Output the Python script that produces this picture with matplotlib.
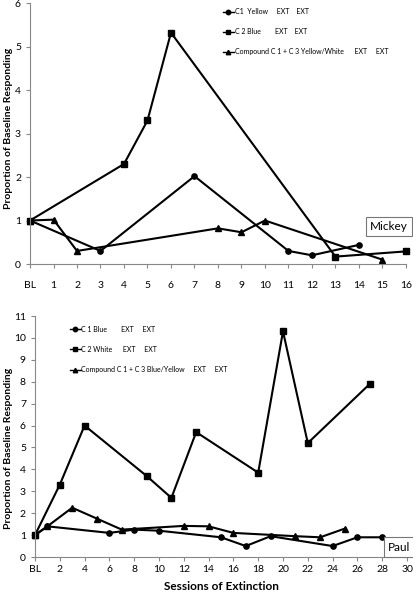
import matplotlib
matplotlib.use("Agg")
import matplotlib.pyplot as plt

plt.rcParams['font.family'] = ['Lato', 'DejaVu Sans']

# ---- Mickey data ----
m_c1_x = [0, 3, 7, 11, 12, 14]
m_c1_y = [1.0, 0.3, 2.02, 0.3, 0.2, 0.44]
m_c2_x = [0, 4, 5, 6, 13, 16]
m_c2_y = [1.0, 2.3, 3.3, 5.32, 0.17, 0.29]
m_c3_x = [0, 1, 2, 8, 9, 10, 15]
m_c3_y = [1.0, 1.02, 0.3, 0.82, 0.73, 1.0, 0.1]
m_labels = ["C1  Yellow     EXT    EXT",
            "C 2 Blue        EXT    EXT",
            "Compound C 1 + C 3 Yellow/White      EXT     EXT"]
m_ticks = list(range(0, 17))
m_ticklabels = ["BL"] + [str(i) for i in range(1, 17)]

# ---- Paul data ----
p_c1_x = [0, 1, 6, 8, 10, 15, 17, 19, 24, 26, 28]
p_c1_y = [1.0, 1.4, 1.1, 1.25, 1.2, 0.9, 0.5, 0.95, 0.5, 0.9, 0.9]
p_c2_x = [0, 2, 4, 9, 11, 13, 18, 20, 22, 27]
p_c2_y = [1.0, 3.3, 6.0, 3.7, 2.7, 5.7, 3.85, 10.3, 5.2, 7.9]
p_c3_x = [0, 1, 3, 5, 7, 12, 14, 16, 21, 23, 25]
p_c3_y = [1.0, 1.4, 2.25, 1.75, 1.25, 1.42, 1.4, 1.1, 0.95, 0.9, 1.3]
p_labels = ["C 1 Blue        EXT     EXT",
            "C 2 White      EXT     EXT",
            "Compound C 1 + C 3 Blue/Yellow     EXT     EXT"]
p_ticks = list(range(0, 31, 2))
p_ticklabels = ["BL"] + [str(i) for i in range(2, 31, 2)]

fig = plt.figure(figsize=(4.14, 5.93), dpi=100)
ax1 = fig.add_axes([0.0725, 0.5548, 0.908, 0.440])
ax2 = fig.add_axes([0.0845, 0.0607, 0.8986, 0.4064])

spine_c = '#888888'

def style(ax):
    for s in ['top', 'right']:
        ax.spines[s].set_visible(False)
    for s in ['left', 'bottom']:
        ax.spines[s].set_color(spine_c)
        ax.spines[s].set_linewidth(0.8)
    ax.tick_params(axis='both', colors=spine_c, labelcolor='black',
                   labelsize=7.5, length=3, width=0.8, direction='out')

lw = 1.5
ms = 3.8
for ax, data, labels in [
    (ax1, [(m_c1_x, m_c1_y, 'o'), (m_c2_x, m_c2_y, 's'), (m_c3_x, m_c3_y, '^')], m_labels),
    (ax2, [(p_c1_x, p_c1_y, 'o'), (p_c2_x, p_c2_y, 's'), (p_c3_x, p_c3_y, '^')], p_labels),
]:
    for (x, y, mk), lab in zip(data, labels):
        ax.plot(x, y, color='black', lw=lw, marker=mk, ms=ms, label=lab,
                clip_on=False)
    style(ax)

ax1.set_xlim(0, 16)
ax1.set_ylim(0, 6)
ax1.set_xticks(m_ticks)
ax1.set_xticklabels(m_ticklabels)
ax1.set_yticks(range(0, 7))
ax1.tick_params(axis='x', pad=9)

ax2.set_xlim(0, 30)
ax2.set_ylim(0, 11)
ax2.set_xticks(p_ticks)
ax2.set_xticklabels(p_ticklabels)
ax2.set_yticks(range(0, 12))
ax2.tick_params(axis='x', pad=3)

ax1.set_ylabel("Proportion of Baseline Responding", fontsize=7.5,
               fontweight='bold')
ax1.yaxis.set_label_coords(-0.045, 0.52)
ax2.set_ylabel("Proportion of Baseline Responding", fontsize=7.5,
               fontweight='bold')
ax2.yaxis.set_label_coords(-0.059, 0.45)
ax2.set_xlabel("Sessions of Extinction", fontsize=8.5, fontweight='bold')
ax2.xaxis.set_label_coords(0.5, -0.1)

leg1 = ax1.legend(loc='upper left', bbox_to_anchor=(0.5, 1.0), frameon=False,
                  fontsize=5, handlelength=1.6, handletextpad=0.1,
                  labelspacing=1.9, borderaxespad=0.3)
leg2 = ax2.legend(loc='upper left', bbox_to_anchor=(0.08, 0.98), frameon=False,
                  fontsize=5, handlelength=1.6, handletextpad=0.1,
                  labelspacing=1.9, borderaxespad=0.3)
for leg in (leg1, leg2):
    for h in leg.legend_handles:
        h.set_linewidth(1.0)
        h.set_markersize(3.2)

bbox = dict(boxstyle='square,pad=0.35', fc='white', ec='#777777', lw=0.8)
ax1.text(1.005, 0.145, "Mickey", transform=ax1.transAxes, ha='right',
         va='center', fontsize=8.5, bbox=bbox)
ax2.text(1.01, 0.041, "Paul", transform=ax2.transAxes, ha='right',
         va='center', fontsize=8.5, bbox=bbox)

fig.savefig("out.png", dpi=100)
